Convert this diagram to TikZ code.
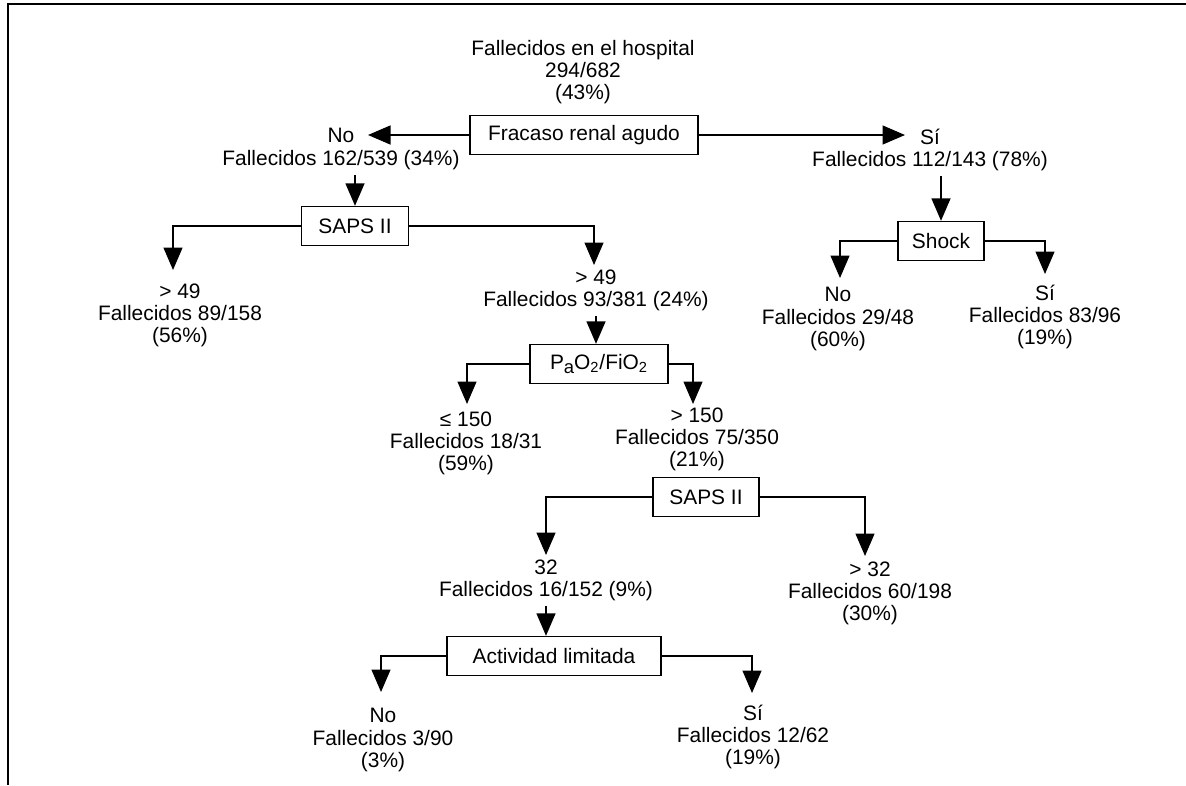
\documentclass[tikz,border=0pt]{standalone}
\usepackage{fontspec}
\setmainfont{Liberation Sans}
\usetikzlibrary{arrows.meta}

\begin{document}
\begin{tikzpicture}[x=0.02cm,y=-0.02cm,
  font=\fontsize{11.9}{12.6}\selectfont,
  box/.style={draw, line width=0.8pt, minimum height=0.78cm, inner sep=0pt},
  lbl/.style={align=center, inner sep=0.1cm},
  arr/.style={line width=0.8pt, -{Triangle[length=0.45cm,width=0.38cm]}}]
\useasboundingbox (0,0) rectangle (1186,785);
\draw[line width=1.1pt] (1186,4) -- (8,4) -- (8,785);

% root
\node[lbl] (total) at (583,72) {Fallecidos en el hospital\\294/682\\(43\%)};
\node[box, minimum width=4.56cm] (fracaso) at (584,135) {Fracaso renal agudo};
\node[lbl] (no1) at (341,149) {No\\Fallecidos 162/539 (34\%)};
\node[lbl] (si1) at (930,150) {Sí\\Fallecidos 112/143 (78\%)};
\coordinate (tno1) at (368,135);
\coordinate (tsi1) at (905,135);
\draw[arr] (fracaso.west) -- (tno1);
\draw[arr] (fracaso.east) -- (tsi1);

% rama sin fracaso renal
\node[box, minimum width=2.14cm] (sapsA) at (355,226) {SAPS II};
\draw[arr] (no1.south -| sapsA.north) -- (sapsA.north);
\node[lbl] (gt49a) at (180,315) {> 49\\Fallecidos 89/158\\(56\%)};
\node[lbl] (gt49b) at (596,290) {> 49\\Fallecidos 93/381 (24\%)};
\coordinate (tgt49a) at (173,270);
\coordinate (tgt49b) at (594,265);
\draw[arr] (sapsA.west) -| (tgt49a);
\draw[arr] (sapsA.east) -| (tgt49b);

\node[box, minimum width=2.76cm] (pao2) at (599,364) {P\raisebox{-0.35ex}{\fontsize{10.5}{10}\selectfont a}O\textsubscript{2}/FiO\textsubscript{2}};
\draw[arr] (gt49b.south) -- (gt49b.south |- pao2.north);
\node[lbl] (le150) at (466,443) {≤ 150\\Fallecidos 18/31\\(59\%)};
\node[lbl] (gt150) at (697,439) {> 150\\Fallecidos 75/350\\(21\%)};
\coordinate (tle150) at (467,404);
\coordinate (tgt150) at (693,404);
\draw[arr] (pao2.west) -| (tle150);
\draw[arr] (pao2.east) -| (tgt150);

\node[box, minimum width=2.12cm] (sapsB) at (706,497) {SAPS II};
\node[lbl] (t32) at (546,580) {32\\Fallecidos 16/152 (9\%)};
\node[lbl] (gt32) at (870,593) {> 32\\Fallecidos 60/198\\(30\%)};
\coordinate (tt32) at (546,555);
\coordinate (tgt32) at (865,556);
\draw[arr] (sapsB.west) -| (tt32);
\draw[arr] (sapsB.east) -| (tgt32);

\node[box, minimum width=4.28cm] (actividad) at (554,656) {Actividad limitada};
\draw[arr] (t32.south) -- (t32.south |- actividad.north);
\node[lbl] (noA) at (383,740) {No\\Fallecidos 3/90\\(3\%)};
\node[lbl] (siA) at (753,737) {Sí\\Fallecidos 12/62\\(19\%)};
\coordinate (tnoA) at (381,692);
\coordinate (tsiA) at (752,693);
\draw[arr] (actividad.west) -| (tnoA);
\draw[arr] (actividad.east) -| (tsiA);

% rama con fracaso renal
\node[box, minimum width=1.72cm] (shock) at (941,241) {Shock};
\draw[arr] (si1.south -| shock.north) -- (shock.north);
\node[lbl] (noS) at (838,319) {No\\Fallecidos 29/48\\(60\%)};
\node[lbl] (siS) at (1045,317) {Sí\\Fallecidos 83/96\\(19\%)};
\coordinate (tnoS) at (840,278);
\coordinate (tsiS) at (1045,274);
\draw[arr] (shock.west) -| (tnoS);
\draw[arr] (shock.east) -| (tsiS);
\end{tikzpicture}
\end{document}
